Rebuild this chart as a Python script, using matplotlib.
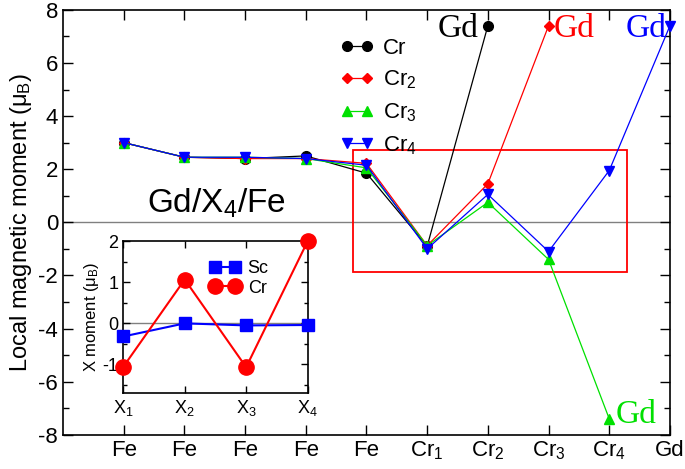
import numpy as np
import matplotlib
matplotlib.use("Agg")
import matplotlib.pyplot as plt
from matplotlib.patches import Rectangle

plt.rcParams['font.family'] = ['Liberation Sans', 'DejaVu Sans']
plt.rcParams['mathtext.fontset'] = 'custom'
plt.rcParams['mathtext.rm'] = 'Liberation Sans'
plt.rcParams['mathtext.it'] = 'Liberation Sans'
plt.rcParams['axes.unicode_minus'] = False

# main panel data
site_labels = ["Fe", "Fe", "Fe", "Fe", "Fe", "Cr$_1$", "Cr$_2$", "Cr$_3$", "Cr$_4$", "Gd"]
cr1 = [3.0, 2.45, 2.4, 2.5, 1.85, -0.9, 7.4]
cr2 = [3.0, 2.45, 2.4, 2.4, 2.22, -0.88, 1.45, 7.4]
cr3 = [3.0, 2.45, 2.45, 2.4, 2.05, -0.88, 0.75, -1.4, -7.4]
cr4 = [3.0, 2.45, 2.45, 2.4, 2.15, -1.0, 1.05, -1.1, 1.95, 7.4]

# inset data
x_labels = ["X$_1$", "X$_2$", "X$_3$", "X$_4$"]
sc_moment = [-0.32, 0.0, -0.05, -0.04]
cr_moment = [-1.06, 1.07, -1.07, 2.0]

fig = plt.figure(figsize=(6.85, 4.69), dpi=100)
ax = fig.add_axes([0.092, 0.073, 0.886, 0.906])

series = [
    (cr1, 'k', 'o', 7, "Cr"),
    (cr2, 'red', 'D', 5.5, "Cr$_2$"),
    (cr3, '#00e000', '^', 7, "Cr$_3$"),
    (cr4, 'blue', 'v', 7, "Cr$_4$"),
]
for vals, col, mk, ms, lab in series:
    xs = np.arange(1, len(vals) + 1)
    ax.plot(xs, vals, color=col, marker=mk, ms=ms, lw=0.9, label=lab, clip_on=False, zorder=3)

ax.axhline(0, color='gray', lw=1, zorder=1)
ax.add_patch(Rectangle((4.78, -1.89), 4.51, 4.62, fill=False, ec='red', lw=1.3, zorder=2))

ax.set_xlim(0, 10)
ax.set_ylim(-8, 8)
ax.set_xticks(np.arange(1, 11))
ax.set_xticklabels(site_labels, fontsize=16)
ax.set_yticks(np.arange(-8, 9, 2))
ax.set_yticks(np.arange(-7, 8, 2), minor=True)
ax.tick_params(axis='y', labelsize=16)
ax.tick_params(which='both', direction='in', top=True, right=True, length=7, width=1)
ax.tick_params(which='minor', length=4)
ax.set_ylabel(r"Local magnetic moment ($\mu_\mathrm{B}$)", fontsize=17, labelpad=3)
for s in ax.spines.values():
    s.set_linewidth(1.2)

serif = ['Liberation Serif', 'DejaVu Serif']
ax.text(6.85, 7.3, "Gd", color='k', fontsize=24, family=serif, ha='right', va='center')
ax.text(8.08, 7.3, "Gd", color='red', fontsize=24, family=serif, ha='left', va='center')
ax.text(9.95, 7.3, "Gd", color='blue', fontsize=24, family=serif, ha='right', va='center')
ax.text(9.1, -7.25, "Gd", color='#00e000', fontsize=24, family=serif, ha='left', va='center')
ax.text(1.38, 0.7, "Gd/X$_4$/Fe", fontsize=24, ha='left', va='center')

ax.legend(loc='upper left', bbox_to_anchor=(0.443, 0.955), frameon=False, fontsize=16,
          numpoints=2, handlelength=1.5, handletextpad=0.4, labelspacing=0.45, borderaxespad=0)

# inset
ins = fig.add_axes([0.18, 0.162, 0.269, 0.325])
ins.plot(range(1, 5), sc_moment, color='blue', marker='s', ms=9, lw=1.5, label="Sc", clip_on=False, zorder=3)
ins.plot(range(1, 5), cr_moment, color='red', marker='o', ms=11, lw=1.5, label="Cr", clip_on=False, zorder=3)
ins.axhline(0, color='gray', lw=1, zorder=1)
ins.set_xlim(1, 4)
ins.set_ylim(-1.7, 2.02)
ins.set_xticks(range(1, 5))
ins.set_xticklabels(x_labels, fontsize=13)
ins.set_yticks([-1, 0, 1, 2])
ins.set_yticks([-1.5, -0.5, 0.5, 1.5], minor=True)
ins.tick_params(axis='y', labelsize=13)
ins.tick_params(which='both', direction='in', top=True, right=True, length=5, width=1)
ins.tick_params(which='minor', length=3)
ins.set_ylabel(r"X moment ($\mu_\mathrm{B}$)", fontsize=12, labelpad=1)
ins.legend(loc='upper left', bbox_to_anchor=(0.43, 0.92), frameon=False, fontsize=13,
           numpoints=2, handlelength=1.7, handletextpad=0.4, labelspacing=0.15, borderaxespad=0)
for s in ins.spines.values():
    s.set_linewidth(1.2)

fig.savefig("out.png", dpi=100)
